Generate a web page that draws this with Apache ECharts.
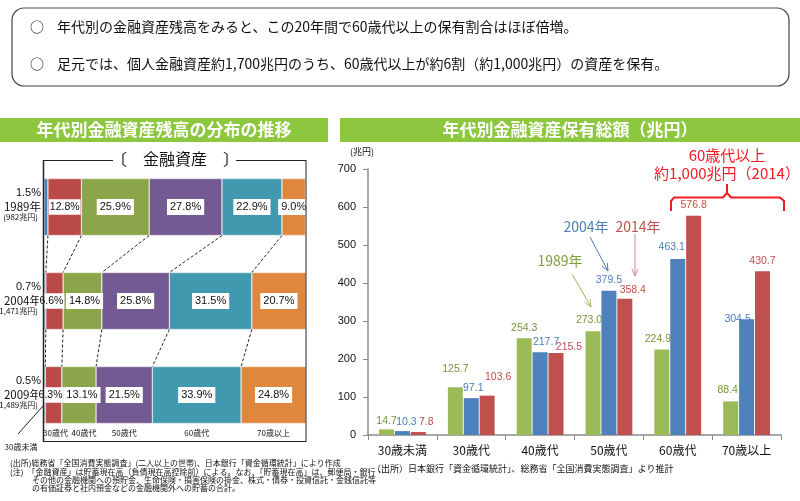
<!DOCTYPE html>
<html><head><meta charset="utf-8">
<script src="https://cdn.jsdelivr.net/npm/echarts@6/dist/echarts.min.js"></script>
<style>html,body{margin:0;padding:0;background:#fff}#c{width:800px;height:501px}</style>
</head><body><div id="c"></div>
<script>
const FONT = '"Noto Sans CJK JP", "Noto Sans", sans-serif';
const NUMFONT = '"Liberation Sans Narrow", "Liberation Sans", "Noto Sans CJK JP", sans-serif';

// ---- left chart data (distribution, %) ----
const distYears = ['1989年', '2004年', '2009年'];
const distTotals = ['(982兆円)', '(1,471兆円)', '(1,489兆円)'];
const distGroups = ['30歳未満', '30歳代', '40歳代', '50歳代', '60歳代', '70歳以上'];
const share1989 = [1.5, 12.8, 25.9, 27.8, 22.9, 9.0];
const share2004 = [0.7, 6.6, 14.8, 25.8, 31.5, 20.7];
const share2009 = [0.5, 6.3, 13.1, 21.5, 33.9, 24.8];

// ---- right chart data (兆円) ----
const ageCats = ['30歳未満', '30歳代', '40歳代', '50歳代', '60歳代', '70歳以上'];
const amountYears = ['1989年', '2004年', '2014年'];
const amount1989 = [14.7, 125.7, 254.3, 273.0, 224.9, 88.4];
const amount2004 = [10.3, 97.1, 217.7, 379.5, 463.1, 304.5];
const amount2014 = [7.8, 103.6, 215.5, 358.4, 576.8, 430.7];
const amountAxisMax = 700;
const amountAxisStep = 100;

const shares = [share1989, share2004, share2009];
const distColors = ['#4A7EBB', '#B94A48', '#8BA64A', '#735A92', '#4199B0', '#E0873E'];
const amtColors = ['#9BBB59', '#4F81BD', '#C0504D'];
const amtLabelColors = ['#77933C', '#4A7EBB', '#C0504D'];
const amounts = [amount1989, amount2004, amount2014];
// label nudges (series-category) to mirror the reference placement
const labelOffsets = {
  '0-0': [0, 2], '1-0': [4, 1], '2-0': [8, 0],
  '0-1': [0, -8], '1-1': [2, 0], '2-1': [11, -8],
  '1-2': [6, 0], '2-2': [13, 4],
  '0-3': [-4, -1], '2-3': [8, 2],
  '0-4': [-4, 0], '1-4': [-6, -2],
  '0-5': [-3, -1], '1-5': [-9, 10]
};
const distLabelOffsets = { '1-1': [-3, 0], '2-1': [-3, 0], '1-2': [2, 0], '2-2': [3, 0] };

const distMax = Math.max(...shares.map(a => a.reduce((s, v) => s + v, 0)));

const chart = echarts.init(document.getElementById('c'), null, { renderer: 'canvas' });

const series = [];
distGroups.forEach((g, k) => {
  series.push({
    type: 'bar', name: g, stack: 'dist', xAxisIndex: 0, yAxisIndex: 0,
    barWidth: 57,
    data: shares.map((a, i) => {
      const off = distLabelOffsets[i + '-' + k];
      return off ? { value: a[k], label: { offset: off } } : a[k];
    }),
    itemStyle: { color: distColors[k], borderColor: 'rgba(255,255,255,0.6)', borderWidth: 0.6 },
    label: {
      show: k > 0, position: 'inside',
      formatter: p => p.value.toFixed(1) + '%',
      backgroundColor: '#fff', padding: k === 1 ? [3, 1, 2, 1] : [3, 3, 2, 3],
      color: '#111', fontSize: k === 1 ? 10.5 : 11, fontFamily: NUMFONT
    },
    emphasis: { disabled: true },
    silent: true
  });
});
amounts.forEach((arr, s) => {
  series.push({
    type: 'bar', name: amountYears[s], xAxisIndex: 1, yAxisIndex: 1,
    z: 4 - s,
    barWidth: 15, barGap: '6%',
    data: arr.map((v, i) => {
      const off = labelOffsets[s + '-' + i];
      return off ? { value: v, label: { offset: off } } : v;
    }),
    itemStyle: { color: amtColors[s] },
    label: {
      show: true, position: 'top', distance: 5,
      formatter: p => p.value.toFixed(1),
      color: amtLabelColors[s], fontSize: 10.5, fontFamily: NUMFONT
    },
    emphasis: { disabled: true },
    silent: true
  });
});

const option = {
  animation: false,
  textStyle: { fontFamily: FONT },
  grid: [
    { left: 44, top: 160, width: 262, height: 282 },
    { left: 368, top: 169, width: 413, height: 266 }
  ],
  xAxis: [
    { gridIndex: 0, type: 'value', min: 0, max: distMax, show: false },
    {
      gridIndex: 1, type: 'category', data: ageCats,
      axisLine: { lineStyle: { color: '#8c8c8c', width: 1.5 } },
      axisTick: { show: true, length: 5, lineStyle: { color: '#8c8c8c' } },
      axisLabel: { color: '#111', fontSize: 12, margin: 9, fontFamily: FONT }
    }
  ],
  yAxis: [
    {
      gridIndex: 0, type: 'category', data: distYears, inverse: true,
      axisLine: { show: false }, axisTick: { show: false }, axisLabel: { show: false }
    },
    {
      gridIndex: 1, type: 'value', min: 0, max: amountAxisMax, interval: amountAxisStep,
      axisLine: { show: true, lineStyle: { color: '#8c8c8c', width: 1.5 } },
      axisTick: { show: true, length: 5, lineStyle: { color: '#8c8c8c' } },
      splitLine: { show: false },
      axisLabel: { color: '#111', fontSize: 11, margin: 12, fontFamily: NUMFONT }
    }
  ],
  series: series
};
chart.setOption(option);

// ---------- graphics ----------
const G = [];
function txt(x, y, text, o) {
  o = o || {};
  G.push({
    type: 'text', x: x, y: y, silent: true, z: o.z != null ? o.z : 100,
    style: Object.assign({
      text: text, fill: '#111', font: (o.weight || 'normal') + ' ' + (o.size || 12) + 'px ' + (o.family || FONT),
      textAlign: o.align || 'left', textVerticalAlign: 'middle'
    }, o.style || {})
  });
}
function line(x1, y1, x2, y2, color, w, dash) {
  G.push({
    type: 'line', silent: true, z: 100,
    shape: { x1: x1, y1: y1, x2: x2, y2: y2 },
    style: { stroke: color, lineWidth: w || 1, lineDash: dash || null }
  });
}
function poly(points, color, w) {
  G.push({
    type: 'polyline', silent: true, z: 100,
    shape: { points: points },
    style: { stroke: color, fill: null, lineWidth: w || 1 }
  });
}
function arrow(x1, y1, x2, y2, color) {
  line(x1, y1, x2, y2, color, 1);
  const ang = Math.atan2(y2 - y1, x2 - x1), L = 8, a = 0.4;
  poly([[x2 - L * Math.cos(ang - a), y2 - L * Math.sin(ang - a)], [x2, y2], [x2 - L * Math.cos(ang + a), y2 - L * Math.sin(ang + a)]], color, 1);
}

// top summary box
G.push({ type: 'rect', silent: true, z: 0, shape: { x: 12, y: 8, width: 777, height: 78, r: 12 }, style: { fill: '#fff', stroke: '#444', lineWidth: 1.2 } });
txt(30, 27, '○', { size: 14 });
txt(57, 27, '年代別の金融資産残高をみると、この20年間で60歳代以上の保有割合はほぼ倍増。', { size: 14 });
txt(30, 64, '○', { size: 14 });
txt(57, 64, '足元では、個人金融資産約1,700兆円のうち、60歳代以上が約6割（約1,000兆円）の資産を保有。', { size: 14 });

// banners
G.push({ type: 'rect', silent: true, z: 0, shape: { x: 0, y: 118, width: 328, height: 24 }, style: { fill: '#8DC63F' } });
txt(164, 130, '年代別金融資産残高の分布の推移', { size: 17, weight: 'bold', align: 'center', style: { fill: '#fff' } });
G.push({ type: 'rect', silent: true, z: 0, shape: { x: 340, y: 118, width: 460, height: 24 }, style: { fill: '#8DC63F' } });
txt(570, 130, '年代別金融資産保有総額（兆円）', { size: 17, weight: 'bold', align: 'center', style: { fill: '#fff' } });

// left frame
line(43.5, 160, 43.5, 442, '#222', 1.5);
line(306, 160, 306, 442, '#222', 1);
line(43, 441.5, 306, 441.5, '#222', 1);
line(43, 160.5, 113, 160.5, '#222', 1);
line(236, 160.5, 306, 160.5, '#222', 1);
txt(175, 159, '〔　金融資産　〕', { size: 16, align: 'center' });

// right unit
txt(362, 152, '(兆円)', { size: 9, align: 'center' });

// notes
txt(10, 463, '(出所)総務省「全国消費実態調査」(二人以上の世帯)、日本銀行「資金循環統計」により作成', { size: 8 });
txt(10, 472, '(注)　「金融資産」は貯蓄現在高（負債現在高控除前）による。なお、「貯蓄現在高」は、郵便局・銀行・', { size: 8 });
txt(32, 480, 'その他の金融機関への預貯金、生命保険・損害保険の掛金、株式・債券・投資信託・金銭信託等', { size: 8 });
txt(32, 488, 'の有価証券と社内預金などの金融機関外への貯蓄の合計。', { size: 8 });
txt(372, 469, '（出所）日本銀行「資金循環統計」、総務省「全国消費実態調査」より推計', { size: 9 });

// right annotations
txt(727, 155, '60歳代以上', { size: 15, align: 'center', style: { fill: '#EE1C25' } });
txt(727, 173, '約1,000兆円（2014）', { size: 15, align: 'center', style: { fill: '#EE1C25' } });
poly([[671, 211], [671, 201], [674, 197.5], [723, 197.5], [727, 193], [727, 184]], '#EE1C25', 2);
poly([[727, 193], [731, 197.5], [780, 197.5], [784, 201], [784, 211]], '#EE1C25', 2);
txt(586, 227, '2004年', { size: 14, align: 'center', style: { fill: '#4A7EBB' } });
txt(638, 227, '2014年', { size: 14, align: 'center', style: { fill: '#C0504D' } });
txt(560, 261, '1989年', { size: 14, align: 'center', style: { fill: '#7FA03C' } });
arrow(590, 237, 608, 271, '#4A7EBB');
arrow(635, 234, 635, 276, '#C98A8A');
arrow(572, 274, 591, 307, '#9BBB59');

// dynamic pieces from the left chart's scales
const half = 57 / 2;
const cy = distYears.map(y => chart.convertToPixel({ yAxisIndex: 0 }, y));
const xOf = v => chart.convertToPixel({ xAxisIndex: 0 }, v);
const cum = a => { const r = []; let s = 0; a.forEach(v => { s += v; r.push(s); }); return r; };
for (let i = 0; i < 2; i++) {
  const ca = cum(shares[i]), cb = cum(shares[i + 1]);
  for (let k = 0; k < 5; k++) {
    line(xOf(ca[k]), cy[i] + half, xOf(cb[k]), cy[i + 1] - half, '#222', 1, [3, 2]);
  }
}
// left side year labels (kept beneath the chart's own labels)
distYears.forEach((y, i) => {
  txt(41, cy[i] - 14, shares[i][0].toFixed(1) + '%', { size: 11, align: 'right', family: NUMFONT, z: 0 });
  txt(41, cy[i], y, { size: 11.5, align: 'right', z: 0 });
  txt(38, cy[i] + 10, distTotals[i], { size: 8, align: 'right', z: 0 });
});
// bottom group labels under 2009 bar
const c09 = cum(share2009);
for (let k = 1; k < 6; k++) {
  const mid = (c09[k - 1] + c09[k]) / 2;
  if (k === 1) txt(43, 433, distGroups[k], { size: 8, align: 'left' });
  else if (k === 2) txt(Math.max(xOf(mid), 84), 433, distGroups[k], { size: 8, align: 'center' });
  else txt(xOf(mid), 433, distGroups[k], { size: 8, align: 'center' });
}
line(43, cy[2] + 11, 18, cy[2] + 39, '#222', 1);
txt(21, 447, distGroups[0], { size: 8, align: 'center' });

chart.setOption({ graphic: { elements: G } });
</script>
</body></html>
